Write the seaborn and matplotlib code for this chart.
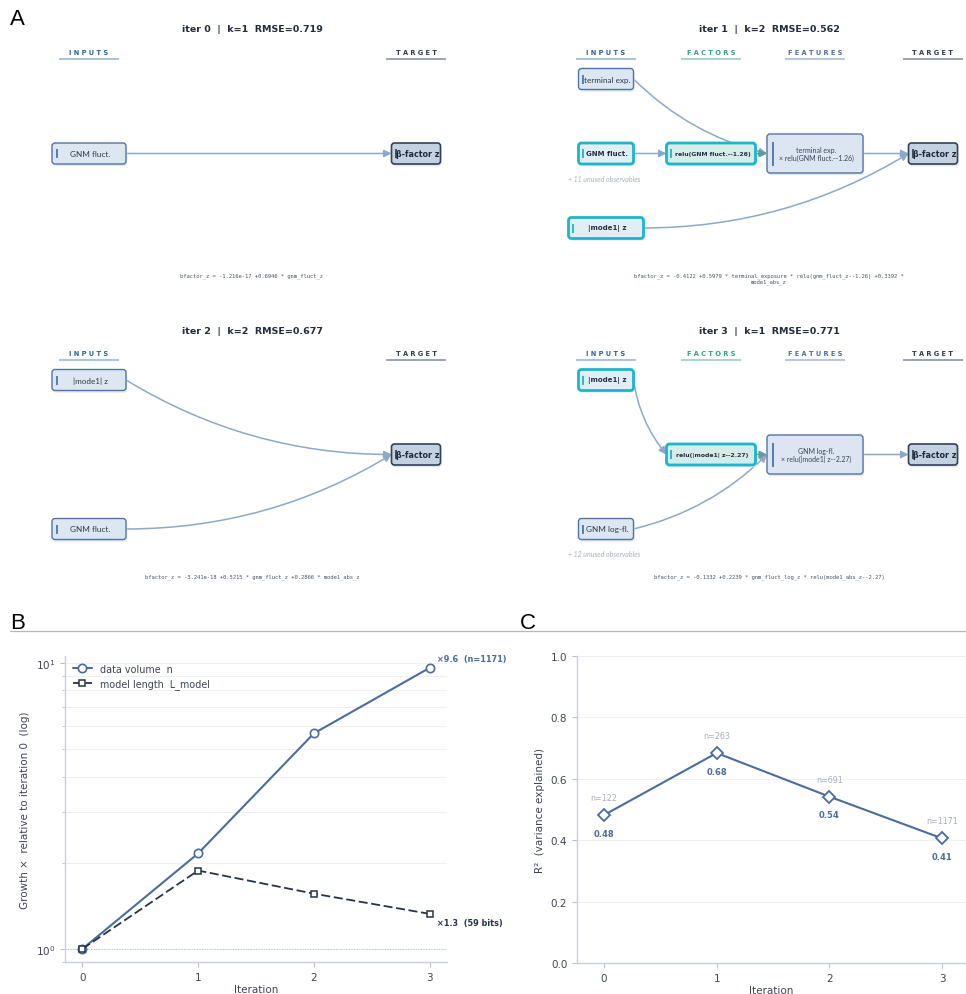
import textwrap

import numpy as np
import pandas as pd
import matplotlib
matplotlib.use("Agg")
import matplotlib.pyplot as plt
import seaborn as sns
from matplotlib.patches import FancyBboxPatch, FancyArrowPatch
from matplotlib.lines import Line2D
from matplotlib.ticker import LogLocator, NullFormatter, FixedLocator

sns.set_style("ticks")
plt.rcParams["font.family"] = ["DejaVu Sans"]

# ------------------------------------------------------------------ data
iterations = [0, 1, 2, 3]
n_obs = [122, 263, 691, 1171]
model_bits = [44.5, 83.6, 69.4, 59.0]
r_squared = [0.482, 0.684, 0.542, 0.406]
n_terms = [1, 2, 2, 1]
rmse = [0.719, 0.562, 0.677, 0.771]

target_label = "β-factor z"
inputs_per_iter = [
    ["GNM fluct."],
    ["terminal exp.", "GNM fluct.", "|mode1| z"],
    ["|mode1| z", "GNM fluct."],
    ["|mode1| z", "GNM log-fl."],
]
selected_inputs = [[], ["GNM fluct.", "|mode1| z"], [], ["|mode1| z"]]
factors_per_iter = [[], ["relu(GNM fluct.--1.26)"], [], ["relu(|mode1| z--2.27)"]]
features_per_iter = [
    [],
    ["terminal exp.\n× relu(GNM fluct.--1.26)"],
    [],
    ["GNM log-fl.\n× relu(|mode1| z--2.27)"],
]
# edges as (source kind, index, destination kind, index)
edges_per_iter = [
    [("in", 0, "target", 0)],
    [("in", 1, "fac", 0), ("in", 0, "feat", 0), ("fac", 0, "feat", 0),
     ("feat", 0, "target", 0), ("in", 2, "target", 0)],
    [("in", 0, "target", 0), ("in", 1, "target", 0)],
    [("in", 0, "fac", 0), ("in", 1, "feat", 0), ("fac", 0, "feat", 0),
     ("feat", 0, "target", 0)],
]
unused_per_iter = [0, 11, 0, 12]
equations = [
    "bfactor_z = -1.216e-17 +0.6946 * gnm_fluct_z",
    "bfactor_z = -0.4122 +0.5979 * terminal_exposure * relu(gnm_fluct_z--1.26) +0.3392 * mode1_abs_z",
    "bfactor_z = -3.241e-18 +0.5215 * gnm_fluct_z +0.2866 * mode1_abs_z",
    "bfactor_z = -0.1332 +0.2239 * gnm_fluct_log_z * relu(mode1_abs_z--2.27)",
]

# ------------------------------------------------------------------ styles
W_PX, H_PX = 966, 995
BLUE = "#4a6d9c"
DARK = "#253447"
EDGE_C = "#8ea8c8"
TEAL_EDGE = "#5a9e9b"

NODE_STYLES = {
    "input": dict(fc="#dde7f2", ec="#4f74a8", lw=1.0, bar="#4f74a8", weight="normal",
                  size=5.9, family="Lato", color="#2e3a4a"),
    "input_sel": dict(fc="#e2eef5", ec="#1cb6cc", lw=2.0, bar="#1cb6cc", weight="bold",
                      size=5.0, family="DejaVu Sans", color="#243040"),
    "factor": dict(fc="#d6ece9", ec="#1cb6cc", lw=2.0, bar="#1cb6cc", weight="bold",
                   size=4.4, family="DejaVu Sans", color="#243040"),
    "feature": dict(fc="#dce5f1", ec="#5574a7", lw=1.0, bar="#4f74a8", weight="normal",
                    size=5.0, family="Lato", color="#3a4656"),
    "target": dict(fc="#c4d1e0", ec="#33425a", lw=1.2, bar="#33425a", weight="bold",
                   size=5.8, family="DejaVu Sans", color="#1f2a3a"),
}
HEADERS = {
    "in": ("INPUTS", "#2f639a", "#93b2d2"),
    "fac": ("FACTORS", "#3a9a88", "#8fcabd"),
    "feat": ("FEATURES", "#4c6ea0", "#a3b6d2"),
    "target": ("TARGET", "#2d3a4b", "#7f8a9a"),
}
wide_nodes = {(1, "|mode1| z"): 75}

fig = plt.figure(figsize=(W_PX / 100, H_PX / 100), dpi=100)


def px_axes(x0, y0, w, h):
    return fig.add_axes([x0 / W_PX, 1 - (y0 + h) / H_PX, w / W_PX, h / H_PX])


def draw_node(ax, cx, cy, w, h, label, style):
    st = NODE_STYLES[style]
    shadow = FancyBboxPatch((cx - w / 2 + 1.2, cy - h / 2 + 2.2), w, h,
                            boxstyle="round,pad=0,rounding_size=3",
                            fc="#e4e8ee", ec="none", zorder=2)
    ax.add_patch(shadow)
    box = FancyBboxPatch((cx - w / 2, cy - h / 2), w, h,
                         boxstyle="round,pad=0,rounding_size=3",
                         fc=st["fc"], ec=st["ec"], lw=st["lw"], zorder=3)
    ax.add_patch(box)
    half = 12 if style == "feature" else 4.5
    bx = cx - w / 2 + (6 if style == "feature" else 4.5)
    ax.plot([bx, bx], [cy - half, cy + half], color=st["bar"], lw=1.3,
            solid_capstyle="butt", zorder=4)
    ax.text(cx + 1.5, cy, label, ha="center", va="center", fontsize=st["size"],
            fontweight=st["weight"], family=st["family"], color=st["color"],
            zorder=5, linespacing=1.15)


# ------------------------------------------------------------------ panel A
PANEL_W, PANEL_H = 449, 300
origins = [(0, 0), (517, 0), (0, 301), (517, 301)]
COL4 = {"in": 89, "fac": 194, "feat": 298, "target": 416}
COL2 = {"in": 89, "target": 416}
SIZES = {"fac": (89, 21), "feat": (96, 39), "target": (49, 21)}


def row_positions(n):
    if n == 1:
        return [154.5]
    return list(np.linspace(80, 229, n))


for it in range(4):
    ox, oy = origins[it]
    ax = px_axes(ox, oy, PANEL_W, PANEL_H)
    ax.set_xlim(0, PANEL_W)
    ax.set_ylim(PANEL_H, 0)
    ax.axis("off")

    layout4 = len(factors_per_iter[it]) > 0
    cols = COL4 if layout4 else COL2

    ax.text(252, 30, f"iter {it}  |  k={n_terms[it]}  RMSE={rmse[it]:.3f}",
            ha="center", va="center", fontsize=6.8, fontweight="bold", color="#222c3a")

    for kind, x in cols.items():
        name, tcol, lcol = HEADERS[kind]
        ax.text(x, 53, " ".join(name), ha="center", va="center", fontsize=4.8,
                fontweight="bold", color=tcol)
        ax.plot([x - 30, x + 30], [60, 60], color=lcol, lw=1.1, solid_capstyle="butt")

    nodes = {}
    ins = inputs_per_iter[it]
    for i, (lab, y) in enumerate(zip(ins, row_positions(len(ins)))):
        w = wide_nodes.get((it, lab), 55 if layout4 else 74)
        style = "input_sel" if lab in selected_inputs[it] else "input"
        nodes[("in", i)] = (cols["in"], y, w, 21, lab, style)
    for kind, labels, style in (("fac", factors_per_iter[it], "factor"),
                                ("feat", features_per_iter[it], "feature")):
        for i, (lab, y) in enumerate(zip(labels, row_positions(max(len(labels), 1)))):
            w, h = SIZES[kind]
            nodes[(kind, i)] = (cols[kind], y, w, h, lab, style)
    tw, th = SIZES["target"]
    nodes[("target", 0)] = (cols["target"], 154.5, tw, th, target_label, "target")

    for sk, si, dk, di in edges_per_iter[it]:
        sx, sy, sw, _, _, _ = nodes[(sk, si)]
        dx, dy, dw, _, _, _ = nodes[(dk, di)]
        p0 = (sx + sw / 2, sy)
        p1 = (dx - dw / 2, dy)
        rad = 0.0 if abs(sy - dy) < 1 else 0.14
        teal = sk == "fac" and dk == "feat"
        col = TEAL_EDGE if teal else EDGE_C
        arr = FancyArrowPatch(p0, p1, connectionstyle=f"arc3,rad={rad}",
                              arrowstyle="-|>", mutation_scale=11, lw=1.1,
                              color=col, shrinkA=0, shrinkB=0,
                              zorder=2.5 if teal else 1)
        ax.add_patch(arr)

    for key, (cx, cy, w, h, lab, style) in nodes.items():
        draw_node(ax, cx, cy, w, h, lab, style)

    if unused_per_iter[it]:
        _, uy, _, _, _, _ = nodes[("in", 1)]
        ax.text(cols["in"] - 38, uy + 25, f"+ {unused_per_iter[it]} unused observables",
                ha="left", va="center", fontsize=5, style="italic", family="Lato",
                color="#a9b1be")

    ax.text(252, 273.5, textwrap.fill(equations[it], 90), ha="center", va="top",
            fontsize=4.0, family="DejaVu Sans Mono", color="#4a5566", linespacing=1.1)

# ------------------------------------------------------------------ labels / divider
fig.text(10 / W_PX, 1 - 9 / H_PX, "A", ha="left", va="top", fontsize=16,
         family="Liberation Sans", color="black")
fig.text(10 / W_PX, 1 - 613 / H_PX, "B", ha="left", va="top", fontsize=16,
         family="Liberation Sans", color="black")
fig.text(520 / W_PX, 1 - 613 / H_PX, "C", ha="left", va="top", fontsize=16,
         family="Liberation Sans", color="black")
fig.add_artist(Line2D([10 / W_PX, 1.0], [1 - 632 / H_PX] * 2, color="#b4b8be", lw=0.9))

SPINE_C = "#c8d0dc"
TICK_C = "#b9c2ce"
LABEL_C = "#3d4452"


def style_axes(ax):
    for s in ("top", "right"):
        ax.spines[s].set_visible(False)
    for s in ("left", "bottom"):
        ax.spines[s].set_color(SPINE_C)
        ax.spines[s].set_linewidth(1.0)
    ax.tick_params(axis="both", which="major", length=3.5, width=0.8, color=TICK_C,
                   labelsize=7.5, labelcolor=LABEL_C, left=True, bottom=True)
    ax.set_axisbelow(True)


# ------------------------------------------------------------------ panel B
axB = px_axes(65, 657, 382, 306)
growth = pd.DataFrame({
    "iteration": iterations,
    "n_growth": np.array(n_obs) / n_obs[0],
    "L_growth": np.array(model_bits) / model_bits[0],
})
sns.lineplot(data=growth, x="iteration", y="n_growth", ax=axB, color=BLUE, lw=1.5,
             marker="o", ms=6, mfc="white", mec=BLUE, mew=1.2,
             label="data volume  n", zorder=3)
sns.lineplot(data=growth, x="iteration", y="L_growth", ax=axB, color=DARK, lw=1.3,
             marker="s", ms=5, mfc="white", mec=DARK, mew=1.1,
             label="model length  L_model", zorder=3)
axB.lines[1].set_dashes([5, 2])
axB.set_yscale("log")
axB.set_ylim(0.9, growth["n_growth"].max() * 1.1)
axB.set_xlim(-0.15, 3.15)
axB.set_xticks(iterations)
axB.yaxis.set_major_locator(FixedLocator([1, 10]))
axB.yaxis.set_minor_locator(LogLocator(base=10, subs=np.arange(2, 10)))
axB.yaxis.set_minor_formatter(NullFormatter())
axB.grid(True, axis="y", which="both", color="#edf0f4", lw=0.8)
axB.axhline(1.0, color="#aabbd6", lw=0.7, ls=":", zorder=1)
style_axes(axB)
axB.tick_params(axis="y", which="minor", length=2, width=0.6, color=TICK_C, left=True)
axB.set_xlabel("Iteration", fontsize=7.5, color=LABEL_C, labelpad=2)
axB.set_ylabel("Growth ×  relative to iteration 0  (log)", fontsize=7.5, color=LABEL_C)
axB.legend(loc="upper left", frameon=False, fontsize=6.9, handlelength=2.0,
           borderaxespad=0.4, labelcolor="#3d4452")

last = len(iterations) - 1
axB.annotate(f"×{growth['n_growth'].iloc[last]:.1f}  (n={n_obs[last]})",
             (iterations[last], growth["n_growth"].iloc[last]),
             xytext=(5, 6.5), textcoords="offset points", ha="left", va="center",
             fontsize=5.9, fontweight="bold", color=BLUE, annotation_clip=False)
axB.annotate(f"×{growth['L_growth'].iloc[last]:.1f}  ({model_bits[last]:.0f} bits)",
             (iterations[last], growth["L_growth"].iloc[last]),
             xytext=(5, -6), textcoords="offset points", ha="left", va="center",
             fontsize=5.9, fontweight="bold", color=DARK, annotation_clip=False)

# ------------------------------------------------------------------ panel C
axC = px_axes(577, 657, 389, 307)
sns.lineplot(x=iterations, y=r_squared, ax=axC, color=BLUE, lw=1.5, marker="D",
             ms=6, mfc="white", mec=BLUE, mew=1.3, zorder=3)
axC.set_ylim(0, 1.0)
axC.set_xlim(-0.24, 3.213)
axC.set_xticks(iterations)
axC.set_yticks(np.arange(0, 1.01, 0.2))
axC.grid(True, axis="y", color="#edf0f4", lw=0.8)
style_axes(axC)
axC.set_xlabel("Iteration", fontsize=7.5, color=LABEL_C, labelpad=2)
axC.set_ylabel("R²  (variance explained)", fontsize=7.5, color=LABEL_C)
for x, r, n in zip(iterations, r_squared, n_obs):
    axC.annotate(f"n={n}", (x, r), xytext=(0, 12.5), textcoords="offset points",
                 ha="center", va="center", fontsize=5.8, color="#a7b0bf")
    axC.annotate(f"{r:.2f}", (x, r), xytext=(0, -13), textcoords="offset points",
                 ha="center", va="center", fontsize=6, fontweight="bold", color=BLUE)

fig.savefig("out.png", dpi=100)
